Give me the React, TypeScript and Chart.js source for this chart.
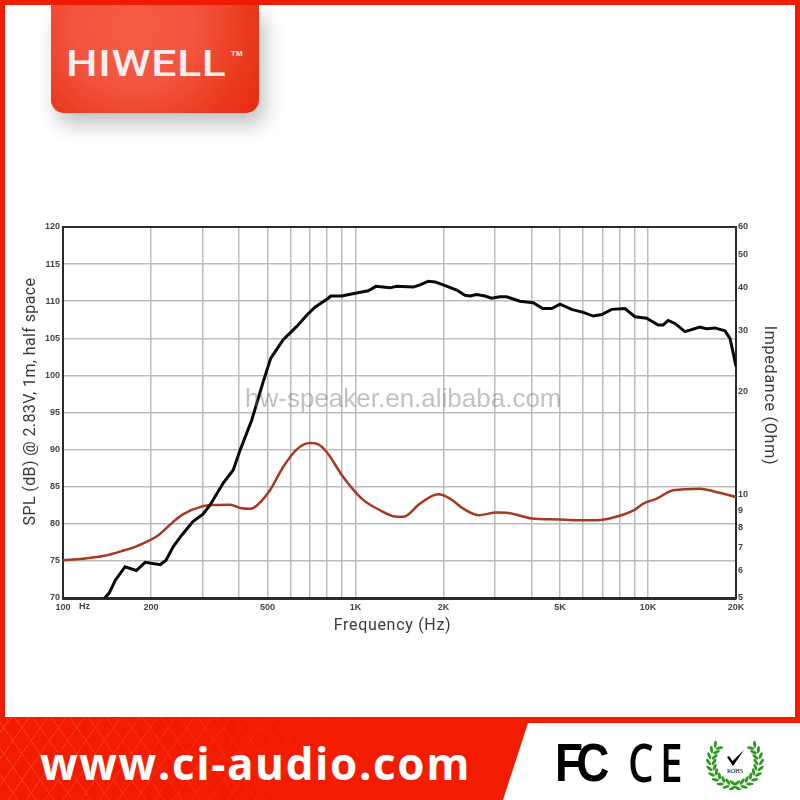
import React, { useEffect, useRef } from "react";
import { Chart, registerables } from "chart.js";

Chart.register(...registerables);

const splFreq = [136,139,144,151,163,178,191,215,225,238,255,278,301,318,353,382,403,442,484,513,566,630,681,727,807,823,897,1009,1106,1175,1312,1383,1577,1662,1774,1870,1996,2218,2368,2462,2596,2773,2922,3119,3288,3650,4053,4365,4688,5003,5484,6010,6502,6947,7516,8343,9031,9897,10840,11277,11730,12370,13380,15060,15870,16940,18340,19070,19570,20000];
const splValues = [69.8,70,70.7,72.4,74.2,73.7,74.8,74.5,75.1,76.9,78.5,80.3,81.3,82.5,85.5,87.25,89.9,94,99.2,102.3,104.8,106.6,108.1,109.2,110.4,110.7,110.7,111.1,111.4,112,111.8,112,111.9,112.2,112.7,112.6,112.2,111.5,110.8,110.7,110.9,110.7,110.4,110.6,110.6,110,109.8,109,109,109.6,108.9,108.5,108,108.2,108.9,109,107.9,107.7,106.8,106.8,107.4,107,105.9,106.5,106.3,106.4,106,105,103,101.2];

const impFreq = [100,117,137,160,179,210,238,257,301,326,372,408,436,459,510,566,630,699,746,797,908,1050,1213,1346,1456,1662,1919,2104,2336,2630,3040,3329,4003,4935,5765,6680,7610,9031,9640,10710,12205,15060,16720,20000];
const impValues = [6.44,6.5,6.62,6.86,7.08,7.57,8.32,8.75,9.25,9.32,9.34,9.12,9.09,9.28,10.29,12.02,13.53,14.11,13.99,13.29,11.24,9.73,9,8.65,8.61,9.41,10.01,9.73,9.1,8.71,8.86,8.84,8.52,8.46,8.42,8.42,8.57,9.04,9.41,9.73,10.29,10.4,10.22,9.84];

const freqGrid = [100,200,300,400,500,600,700,800,900,1000,2000,3000,4000,5000,6000,7000,8000,9000,10000,20000];
const freqLabelValues = [100,200,500,1000,2000,5000,10000,20000];
const freqLabelTexts = ["100","200","500","1K","2K","5K","10K","20K"];
const impTicks = [5,6,7,8,9,10,20,30,40,50,60];

const TICK_FONT = { family: "'Liberation Sans', Arial, sans-serif", size: 9, weight: "bold" as const };
const TITLE_FONT = { family: "Roboto, sans-serif", size: 16, weight: "normal" as const };
const GRID = "#bcbcbc";
const DARK = "#2b2b2b";
const TICK_COLOR = "#444";
const TITLE_COLOR = "#3a3a3a";

function tweakTitle(scale: any, dx: number, dy: number, spacing: string) {
  if (scale.__tweaked) return;
  scale.__tweaked = true;
  const original = scale.drawTitle;
  scale.drawTitle = function () {
    const ctx = this.ctx;
    ctx.save();
    ctx.translate(dx, dy);
    ctx.letterSpacing = spacing;
    original.call(this);
    ctx.restore();
  };
}

const wreathAngles = [222, 208, 194, 180, 166, 152, 138, 124, 110, 96];

export default function App() {
  const ref = useRef<HTMLCanvasElement>(null);
  useEffect(() => {
    const chart = new Chart(ref.current!, {
      type: "line",
      data: {
        datasets: [
          {
            label: "SPL",
            data: splFreq.map((x, i) => ({ x, y: splValues[i] })),
            borderColor: "#0a0a0a",
            borderWidth: 3,
            pointRadius: 0,
            yAxisID: "y",
          },
          {
            label: "Impedance",
            data: impFreq.map((x, i) => ({ x, y: impValues[i] })),
            borderColor: "#a63a20",
            borderWidth: 2.5,
            pointRadius: 0,
            yAxisID: "imp",
            cubicInterpolationMode: "monotone",
          },
        ],
      },
      options: {
        animation: false,
        responsive: false,
        layout: { padding: { top: 227, bottom: 160, left: 0, right: 0 } },
        plugins: { legend: { display: false }, tooltip: { enabled: false } },
        scales: {
          x: {
            type: "logarithmic",
            min: 100,
            max: 20000,
            afterBuildTicks: (s: any) => { s.ticks = freqGrid.map((value) => ({ value })); },
            afterFit: (s: any) => { s.height = 42; tweakTitle(s, -7, 0, "0.7px"); },
            ticks: {
              autoSkip: false,
              maxRotation: 0,
              padding: 4,
              color: TICK_COLOR,
              font: TICK_FONT,
              callback: (v: any) => {
                const i = freqLabelValues.indexOf(Number(v));
                return i >= 0 ? freqLabelTexts[i] : "";
              },
            },
            grid: { color: GRID, lineWidth: 1.5, drawTicks: false },
            border: { color: DARK, width: 3 },
            title: { display: true, text: "Frequency (Hz)", color: TITLE_COLOR, font: TITLE_FONT, padding: { top: 0, bottom: 4 } },
          },
          y: {
            position: "left",
            min: 70,
            max: 120,
            afterFit: (s: any) => { s.width = 63; tweakTitle(s, 0, -11, "0.4px"); },
            ticks: { stepSize: 5, padding: 3, color: TICK_COLOR, font: TICK_FONT },
            grid: {
              color: (c: any) => (c.tick && c.tick.value === 120 ? DARK : GRID),
              lineWidth: (c: any) => (c.tick && c.tick.value === 120 ? 2 : 1.5),
              drawTicks: false,
            },
            border: { color: DARK, width: 2 },
            title: { display: true, text: "SPL (dB) @ 2.83V, 1m, half space", color: TITLE_COLOR, font: TITLE_FONT, padding: { top: 21, bottom: 0 } },
          },
          imp: {
            type: "logarithmic",
            position: "right",
            min: 5,
            max: 60,
            afterBuildTicks: (s: any) => { s.ticks = impTicks.map((value) => ({ value })); },
            afterFit: (s: any) => { s.width = 64; tweakTitle(s, 0, -17, "0.77px"); },
            ticks: { autoSkip: false, padding: 2, color: TICK_COLOR, font: TICK_FONT, callback: (v: any) => String(v) },
            grid: { display: false, drawTicks: false },
            border: { color: DARK, width: 2 },
            title: { display: true, text: "Impedance (Ohm)", color: TITLE_COLOR, font: TITLE_FONT, padding: { top: 21, bottom: 0 } },
          },
        },
      },
    } as any);
    return () => chart.destroy();
  }, []);

  const abs = (o: React.CSSProperties): React.CSSProperties => ({ position: "absolute", ...o });

  return (
    <div style={abs({ left: 0, top: 0, width: 800, height: 800, background: "#fff", overflow: "hidden", fontFamily: "'Liberation Sans', sans-serif" })}>
      {/* frame */}
      <div style={abs({ left: 0, top: 0, width: 800, height: 5, background: "#f41c00" })} />
      <div style={abs({ left: 0, top: 0, width: 5, height: 720, background: "#f41c00" })} />
      <div style={abs({ left: 795, top: 0, width: 5, height: 724, background: "#f41c00" })} />

      {/* logo */}
      <div style={abs({ left: 51, top: 5, width: 208, height: 108, borderRadius: "0 0 13px 13px", background: "radial-gradient(circle at 40% 20%, #f65c44 0%, #f35540 40%, #e93a1e 75%, #e42c12 100%)", boxShadow: "6px 12px 20px rgba(0,0,0,0.24)" })} />
      <div style={abs({ left: 66, top: 42, fontFamily: "Roboto, sans-serif", fontWeight: 500, fontSize: 37, color: "#f1efed", letterSpacing: 0.6, lineHeight: "44px", transform: "scaleX(1.2)", transformOrigin: "left center", whiteSpace: "nowrap" })}>HIWELL</div>
      <div style={abs({ left: 231, top: 49, fontWeight: "bold", fontSize: 8, color: "#f4f1ee" })}>TM</div>

      {/* chart */}
      <canvas ref={ref} width={800} height={800} style={abs({ left: 0, top: 0, display: "block" })} />

      <div style={abs({ left: 79, top: 601, font: "bold 9px 'Liberation Sans', sans-serif", color: TICK_COLOR })}>Hz</div>

      {/* watermark */}
      <div style={abs({ left: 245, top: 383, fontFamily: "'Liberation Sans', sans-serif", fontSize: 26, color: "rgba(110,110,110,0.42)", whiteSpace: "nowrap" })}>hw-speaker.en.alibaba.com</div>

      {/* footer */}
      <div style={abs({ left: 0, top: 717, width: 800, height: 83, background: "#f41c00" })} />
      <div style={abs({ left: 0, top: 717, width: 520, height: 83, opacity: 0.13, background: "repeating-linear-gradient(55deg, transparent 0 14px, #fff 14px 15px), repeating-linear-gradient(-55deg, transparent 0 14px, #fff 14px 15px)", WebkitMaskImage: "linear-gradient(90deg,#000,transparent 70%)" })} />
      <div style={abs({ left: 503, top: 723, width: 297, height: 77, background: "#fff", clipPath: "polygon(25px 0, 297px 0, 297px 77px, 0 77px)" })} />
      <div style={abs({ left: 40, top: 733, fontFamily: "'Open Sans', sans-serif", fontWeight: 700, fontSize: 44, lineHeight: "60px", letterSpacing: 1.6, color: "#fff", whiteSpace: "nowrap" })}>www.ci-audio.com</div>

      {/* certification marks */}
      <div style={abs({ left: 555, top: 732, fontFamily: "'Liberation Sans', sans-serif", fontWeight: 700, fontSize: 54, lineHeight: "60px", letterSpacing: -8, color: "#000", whiteSpace: "nowrap", transform: "scaleX(0.85)", transformOrigin: "left center" })}>FC</div>
      <div style={abs({ left: 628, top: 732, fontFamily: "'Open Sans', sans-serif", fontWeight: 600, fontSize: 52, lineHeight: "60px", letterSpacing: 8, color: "#000", whiteSpace: "nowrap", transform: "scaleX(0.78)", transformOrigin: "left center" })}>CE</div>
      <svg style={abs({ left: 705, top: 736, width: 60, height: 54 })} viewBox="0 0 60 54">
        {wreathAngles.map((a) => {
          const rad = (a * Math.PI) / 180;
          return [
            [21, 35],
            [26.5, -35],
          ].map(([r, tilt], j) => {
            const x = 30 + r * Math.cos(rad);
            const y = 26 + r * Math.sin(rad);
            const rot = a - 90 + tilt;
            return (
              <g key={`${a}-${j}`}>
                <ellipse cx={x} cy={y} rx={3.6} ry={1.5} fill="#2f9a22" transform={`rotate(${rot} ${x} ${y})`} />
                <ellipse cx={60 - x} cy={y} rx={3.6} ry={1.5} fill="#2f9a22" transform={`rotate(${-rot} ${60 - x} ${y})`} />
              </g>
            );
          });
        })}
        <path d="M22 21 L24 20 L27.5 25 L39 14 L28 30 Z" fill="#000" />
        <text x={30} y={37} textAnchor="middle" fontSize={6} fontFamily="'Liberation Serif', serif" fill="#000">ROHS</text>
      </svg>
    </div>
  );
}
